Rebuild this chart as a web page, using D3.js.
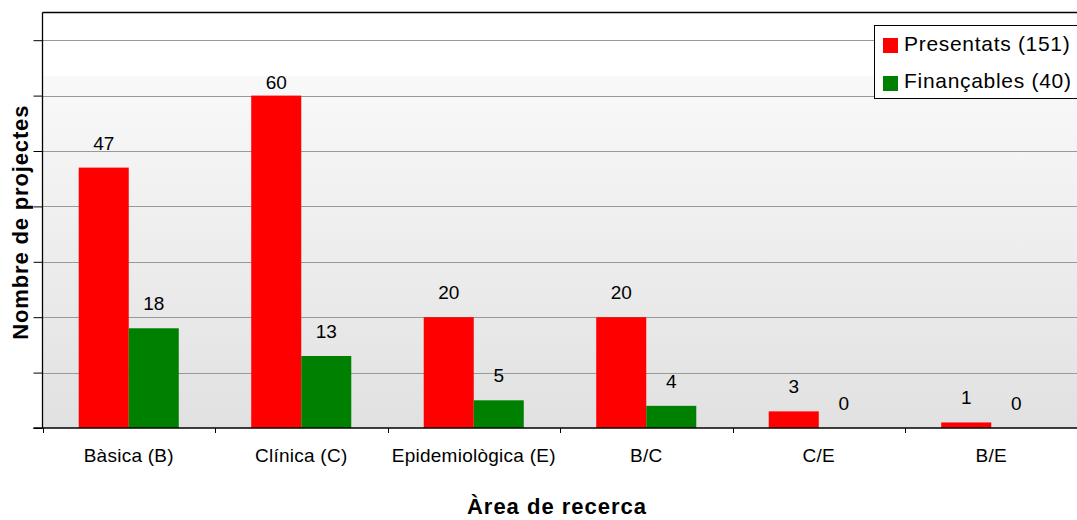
<!DOCTYPE html>
<html>
<head>
<meta charset="utf-8">
<script src="https://cdn.jsdelivr.net/npm/d3@7"></script>
<style>
  html, body { margin: 0; padding: 0; background: #fff; }
  svg { display: block; font-family: "Liberation Sans", Arial, sans-serif; }
</style>
</head>
<body>
<svg id="chart" width="1077" height="520"></svg>
<script>
const categories = ["Bàsica (B)", "Clínica (C)", "Epidemiològica (E)", "B/C", "C/E", "B/E"];
const presentats = [47, 60, 20, 20, 3, 1];
const financables = [18, 13, 5, 4, 0, 0];
const seriesNames = ["Presentats (151)", "Finançables (40)"];
const seriesColors = ["#ff0000", "#008000"];
const yTicks = [0, 10, 20, 30, 40, 50, 60, 70];
const xTitle = "Àrea de recerca";
const yTitle = "Nombre de projectes";

const svg = d3.select("#chart");
const pLeft = 42.5, pRight = 1077.5, pTop = 12.5, pBottom = 428;

const x = d3.scaleBand().domain(categories).range([pLeft, pRight]).padding(0);
const y = d3.scaleLinear().domain([0, 75]).range([pBottom, pTop]);

// background gradient
const defs = svg.append("defs");
const grad = defs.append("linearGradient").attr("id", "bg")
  .attr("x1", 0).attr("y1", 0).attr("x2", 0).attr("y2", 1);
const fracW = (y(63.6) - pTop) / (pBottom - pTop);
grad.append("stop").attr("offset", 0).attr("stop-color", "#ffffff");
grad.append("stop").attr("offset", fracW).attr("stop-color", "#ffffff");
grad.append("stop").attr("offset", fracW).attr("stop-color", "#f9f9f9");
grad.append("stop").attr("offset", 1).attr("stop-color", "#e1e1e1");
svg.append("rect").attr("x", pLeft).attr("y", pTop)
  .attr("width", pRight - pLeft).attr("height", pBottom - pTop)
  .attr("fill", "url(#bg)");

// gridlines
svg.append("g").selectAll("line").data(yTicks.filter(d => d > 0)).join("line")
  .attr("x1", pLeft).attr("x2", pRight)
  .attr("y1", d => Math.round(y(d)) + 0.5).attr("y2", d => Math.round(y(d)) + 0.5)
  .attr("stroke", "#999").attr("stroke-width", 1);

// top border
svg.append("line").attr("x1", pLeft).attr("x2", pRight).attr("y1", pTop).attr("y2", pTop)
  .attr("stroke", "#000").attr("stroke-width", 1.3);

// bars
const barW = x.bandwidth() * 0.29;
const off = (x.bandwidth() - 2 * barW) / 2;
const seriesData = [presentats, financables];
seriesData.forEach((vals, si) => {
  svg.append("g").selectAll("rect").data(vals).join("rect")
    .attr("x", (d, i) => x(categories[i]) + off + si * barW)
    .attr("y", d => y(d))
    .attr("width", barW)
    .attr("height", d => y(0) - y(d))
    .attr("fill", seriesColors[si]);
});

// value labels
const maxVal = d3.max(presentats.concat(financables));
seriesData.forEach((vals, si) => {
  svg.append("g").selectAll("text").data(vals).join("text")
    .attr("x", (d, i) => x(categories[i]) + off + si * barW + barW / 2)
    .attr("y", d => d === maxVal ? y(d) - 7 : y(d) - 18)
    .attr("text-anchor", "middle")
    .attr("font-size", 19)
    .attr("fill", "#000")
    .text(d => d);
});

// y axis
const yAxis = d3.axisLeft(y).tickValues(yTicks).tickSize(9).tickFormat("");
const gy = svg.append("g").attr("transform", `translate(${pLeft},0)`).call(yAxis);
gy.select(".domain").attr("d", `M0,${pTop}V${pBottom}`).attr("stroke", "#000").attr("stroke-width", 1.3);
gy.selectAll(".tick line").attr("stroke", "#000");

// x axis
const gx = svg.append("g").attr("transform", `translate(0,${pBottom})`);
gx.append("line").attr("x1", pLeft - 9).attr("x2", pRight).attr("y1", 0).attr("y2", 0)
  .attr("stroke", "#000").attr("stroke-width", 1.3);
const bounds = categories.map(c => x(c)).concat([pRight]);
gx.selectAll("line.t").data(bounds).join("line").attr("class", "t")
  .attr("x1", d => Math.round(d) + 0.5).attr("x2", d => Math.round(d) + 0.5)
  .attr("y1", 0).attr("y2", 5).attr("stroke", "#000");
gx.selectAll("text").data(categories).join("text")
  .attr("x", d => x(d) + x.bandwidth() / 2)
  .attr("y", 34)
  .attr("text-anchor", "middle")
  .attr("font-size", 19)
  .attr("letter-spacing", 0.25)
  .attr("fill", "#000")
  .text(d => d);

// axis titles
svg.append("text").attr("x", (pLeft + pRight) / 2 - 3).attr("y", 514)
  .attr("text-anchor", "middle").attr("font-size", 22).attr("font-weight", "bold")
  .attr("letter-spacing", 1).attr("fill", "#000").text(xTitle);
svg.append("text").attr("transform", `translate(28,${(pTop + pBottom) / 2 + 2}) rotate(-90)`)
  .attr("text-anchor", "middle").attr("font-size", 22).attr("font-weight", "bold")
  .attr("letter-spacing", 0.85).attr("fill", "#000").text(yTitle);

// legend
const lg = svg.append("g");
lg.append("rect").attr("x", 874.5).attr("y", 25.5).attr("width", 210).attr("height", 73)
  .attr("fill", "#fff").attr("stroke", "#000").attr("stroke-width", 1);
seriesNames.forEach((n, i) => {
  lg.append("rect").attr("x", 883).attr("y", 38 + i * 38).attr("width", 15).attr("height", 15)
    .attr("fill", seriesColors[i]);
  lg.append("text").attr("x", 904).attr("y", 51 + i * 37)
    .attr("font-size", 21).attr("letter-spacing", 0.7).attr("fill", "#000").text(n);
});
</script>
</body>
</html>
